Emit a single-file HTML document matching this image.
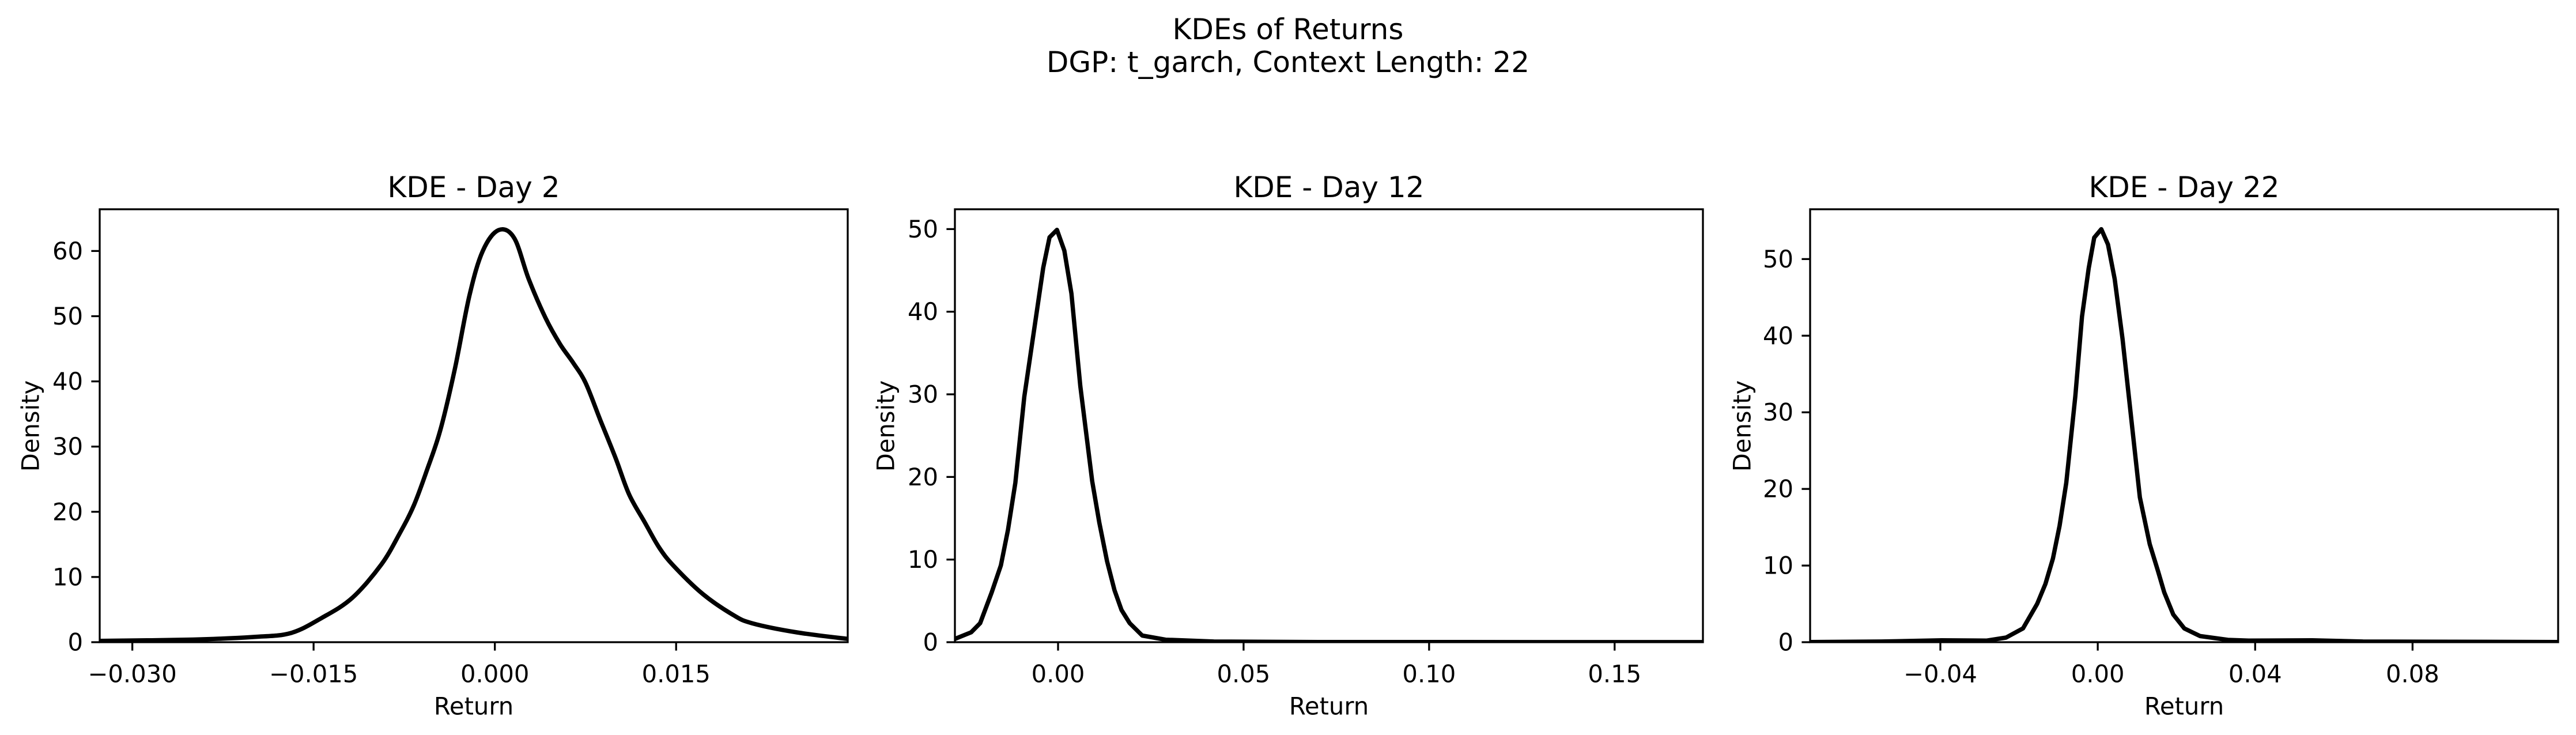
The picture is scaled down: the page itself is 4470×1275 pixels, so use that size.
<!DOCTYPE html>
<html><head><meta charset="utf-8"><style>
html,body{margin:0;padding:0;background:#fff}
svg{display:block;font-family:"DejaVu Sans","Liberation Sans",sans-serif}
</style></head><body>
<svg id="fig" width="4470" height="1275" viewBox="0 0 4470 1275" xmlns="http://www.w3.org/2000/svg">
<rect width="4470" height="1275" fill="#fff"/>
<text x="2235" y="51" font-size="50" text-anchor="middle" dominant-baseline="central">KDEs of Returns</text>
<text x="2235" y="108" font-size="50" text-anchor="middle" dominant-baseline="central">DGP: t_garch, Context Length: 22</text>
</svg>
<script>
const titles = ["KDE - Day 2", "KDE - Day 12", "KDE - Day 22"];
const xDomains = [[-0.0327, 0.0292], [-0.0278, 0.1738], [-0.0731, 0.117]];
const yDomains = [[0, 66.4], [0, 52.4], [0, 56.5]];
const xTicks1 = [-0.030, -0.015, 0.000, 0.015];
const xTickLabels1 = ["\u22120.030", "\u22120.015", "0.000", "0.015"];
const xTicks2 = [0.00, 0.05, 0.10, 0.15];
const xTickLabels2 = ["0.00", "0.05", "0.10", "0.15"];
const xTicks3 = [-0.04, 0.00, 0.04, 0.08];
const xTickLabels3 = ["\u22120.04", "0.00", "0.04", "0.08"];
const yTicks1 = [0, 10, 20, 30, 40, 50, 60];
const yTicks2 = [0, 10, 20, 30, 40, 50];
const yTicks3 = [0, 10, 20, 30, 40, 50];
const kde1X = [-0.0327,-0.025,-0.02,-0.0169,-0.0143,-0.0118,-0.0094,-0.0079,-0.0067,-0.0056,-0.0045,-0.0033,-0.0021,-0.001,0.0003,0.0016,0.0028,0.0042,0.0054,0.0065,0.0075,0.0087,0.01,0.0111,0.0124,0.0136,0.0148,0.0172,0.0197,0.0213,0.025,0.0292];
const kde1Y = [0.2,0.4,0.8,1.4,3.75,6.8,11.9,16.6,21,26.5,32.6,42,53.2,60,63.2,62,55.7,49.7,45.7,42.8,39.8,34.2,28.2,22.7,18.4,14.5,11.7,7.4,4.2,2.9,1.5,0.5];
const kde2X = [-0.0278,-0.0234,-0.021,-0.0179,-0.0154,-0.0135,-0.0115,-0.0091,-0.0059,-0.004,-0.0023,-0.0003,0.0017,0.0036,0.006,0.0092,0.0111,0.0132,0.0152,0.0171,0.0193,0.0227,0.029,0.042,0.07,0.1738];
const kde2Y = [0.4,1.2,2.3,6,9.3,13.6,19.3,29.7,39.5,45.3,49,49.9,47.4,42.2,31,19.5,14.5,9.8,6.3,3.9,2.3,0.8,0.3,0.08,0.02,0.01];
const kde3X = [-0.0731,-0.055,-0.0397,-0.0283,-0.0233,-0.019,-0.0154,-0.0133,-0.0114,-0.0097,-0.008,-0.0057,-0.004,-0.0023,-0.0009,0.0009,0.0026,0.0043,0.0063,0.0086,0.0107,0.0132,0.0153,0.0169,0.0192,0.022,0.026,0.0331,0.0383,0.0545,0.0674,0.117];
const kde3Y = [0.02,0.08,0.25,0.2,0.6,1.8,5,7.6,10.9,15.2,20.8,32.1,42.5,48.8,52.8,53.9,51.9,47.4,39.6,28.8,18.9,12.8,9.3,6.5,3.6,1.8,0.8,0.3,0.2,0.25,0.08,0.02];

const panels = [
  {left:173, right:1471, ylab:53, xt:xTicks1, xl:xTickLabels1, yt:yTicks1, xs:kde1X, ys:kde1Y, smooth:true},
  {left:1657, right:2955, ylab:1537, xt:xTicks2, xl:xTickLabels2, yt:yTicks2, xs:kde2X, ys:kde2Y, smooth:false},
  {left:3141, right:4439, ylab:3023, xt:xTicks3, xl:xTickLabels3, yt:yTicks3, xs:kde3X, ys:kde3Y, smooth:false}
];
const plotTop = 363, plotBottom = 1114;
const NS = "http://www.w3.org/2000/svg";
const svgEl = document.getElementById("fig");
function mk(tag, attrs, parent, text){
  const e = document.createElementNS(NS, tag);
  for (const k in attrs) e.setAttribute(k, attrs[k]);
  if (text !== undefined) e.textContent = text;
  parent.appendChild(e); return e;
}
function pathFrom(pts, smooth){
  if (!smooth) return pts.map((q, k) => (k ? "L" : "M") + q[0].toFixed(1) + "," + q[1].toFixed(1)).join(" ");
  let d = "M" + pts[0][0].toFixed(1) + "," + pts[0][1].toFixed(1);
  for (let k = 0; k < pts.length - 1; k++) {
    const p0 = pts[Math.max(0, k - 1)], p1 = pts[k], p2 = pts[k + 1], p3 = pts[Math.min(pts.length - 1, k + 2)];
    const c1x = p1[0] + (p2[0] - p0[0]) / 6, c1y = p1[1] + (p2[1] - p0[1]) / 6;
    const c2x = p2[0] - (p3[0] - p1[0]) / 6, c2y = p2[1] - (p3[1] - p1[1]) / 6;
    d += " C" + c1x.toFixed(1) + "," + c1y.toFixed(1) + " " + c2x.toFixed(1) + "," + c2y.toFixed(1) + " " + p2[0].toFixed(1) + "," + p2[1].toFixed(1);
  }
  return d;
}
panels.forEach((p, i) => {
  const xd = xDomains[i], yd = yDomains[i];
  const sx = v => p.left + (v - xd[0]) / (xd[1] - xd[0]) * (p.right - p.left);
  const sy = v => plotBottom - (v - yd[0]) / (yd[1] - yd[0]) * (plotBottom - plotTop);
  const g = mk("g", {}, svgEl);
  
  
  const cp = mk("clipPath", {id: "clip" + i}, g);
  mk("rect", {x: p.left, y: plotTop, width: p.right - p.left, height: plotBottom - plotTop}, cp);
  const pts = p.xs.map((x, k) => [sx(x), sy(p.ys[k])]);
  const line = mk("path", {d: pathFrom(pts, p.smooth), fill: "none", stroke: "#000", "stroke-width": 7.5, "stroke-linejoin": "round", "clip-path": "url(#clip" + i + ")"}, g);
  
  
  const frame = mk("rect", {x: p.left, y: plotTop, width: p.right - p.left, height: plotBottom - plotTop, fill: "none", stroke: "#000", "stroke-width": 3.3}, g);
  
  
  p.xt.forEach((t, k) => {
    const x = sx(t);
    const tk = mk("line", {x1: x, x2: x, y1: plotBottom, y2: plotBottom + 14.6, stroke: "#000", "stroke-width": 3.3}, g);
    
    
    const tl = mk("text", {x: x, y: 1169, "font-size": 41.7, "text-anchor": "middle", "dominant-baseline": "central"}, g, p.xl[k]);
    
    
  });
  p.yt.forEach(t => {
    const y = sy(t);
    const tk = mk("line", {x1: p.left - 14.6, x2: p.left, y1: y, y2: y, stroke: "#000", "stroke-width": 3.3}, g);
    
    
    const tl = mk("text", {x: p.left - 29, y: y, "font-size": 41.7, "text-anchor": "end", "dominant-baseline": "central"}, g, String(t));
    
    
  });
  const cx = (p.left + p.right) / 2;
  const tt = mk("text", {x: cx, y: 325, "font-size": 50, "text-anchor": "middle", "dominant-baseline": "central"}, g, titles[i]);
  
  
  const xl = mk("text", {x: cx, y: 1225, "font-size": 41.7, "text-anchor": "middle", "dominant-baseline": "central"}, g, "Return");
  
  
  const yl = mk("text", {x: p.ylab, y: 739, "font-size": 41.7, "text-anchor": "middle", "dominant-baseline": "central", transform: "rotate(-90 " + p.ylab + " 739)"}, g, "Density");
  
  
});
</script>
</body></html>
